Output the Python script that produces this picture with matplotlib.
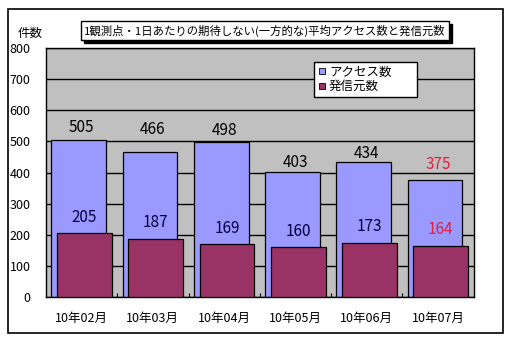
import matplotlib
matplotlib.use("Agg")
import matplotlib.pyplot as plt
from matplotlib.patches import Rectangle
from matplotlib.lines import Line2D
import numpy as np

plt.rcParams["font.family"] = ["Noto Sans CJK JP", "DejaVu Sans"]

# =============================================================================
# Data
# =============================================================================

months = ["10年02月", "10年03月", "10年04月", "10年05月", "10年06月", "10年07月"]
access_counts = [505, 466, 498, 403, 434, 375]
source_counts = [205, 187, 169, 160, 173, 164]

# hand-placed label heights for the access series (data units)
access_label_y = [545, 538, 534, 432, 462, 427]

title = "1観測点・1日あたりの期待しない(一方的な)平均アクセス数と発信元数"
series_names = ["アクセス数", "発信元数"]

# =============================================================================
# Style
# =============================================================================

W, H = 518, 340
BLUE = "#9999FF"
PURPLE = "#993366"
PLOT_BG = "#C0C0C0"
RED = "#E0203C"

fig = plt.figure(figsize=(W / 100, H / 100), dpi=100)


def fx(px):
    return px / W


def fy(py):
    return 1 - py / H


# outer chart frame
fig.patches.append(
    Rectangle((fx(8), fy(333)), fx(503) - fx(8), fy(9) - fy(333),
              transform=fig.transFigure, fill=False, edgecolor="black",
              linewidth=1.2, zorder=0)
)

ax = fig.add_axes([fx(46), fy(297), fx(473.5) - fx(46), fy(48) - fy(297)])
ax.set_facecolor(PLOT_BG)

x = np.arange(len(months))
width = 0.77
shift = 0.04

ax.bar(x - shift, access_counts, width=width, color=BLUE, edgecolor="black",
       linewidth=0.9, zorder=2)
ax.bar(x + shift, source_counts, width=width, color=PURPLE, edgecolor="black",
       linewidth=0.9, zorder=3)

ax.set_ylim(0, 800)
ax.set_xlim(-0.5, len(months) - 0.5)
ax.set_yticks(np.arange(0, 801, 100))
ax.yaxis.grid(True, color="black", linewidth=1)
ax.set_axisbelow(True)

ax.set_xticks(x)
ax.set_xticklabels(months, fontsize=9)
ax.set_xticks(np.arange(0.5, len(months) - 0.5, 1), minor=True)
ax.tick_params(axis="x", which="major", length=0, pad=11)
ax.tick_params(axis="x", which="minor", length=3, direction="in", width=0.8)
ax.tick_params(axis="y", length=0, pad=11, labelsize=9)

for s in ax.spines.values():
    s.set_color("black")
    s.set_linewidth(1)

# value labels
n = len(months)
for i in range(n):
    col = RED if i == n - 1 else "black"
    ax.text(x[i], access_label_y[i], str(access_counts[i]), ha="center",
            va="center", fontsize=11, color=col, zorder=5)
    col2 = RED if i == n - 1 else "#000040"
    ax.text(x[i] + shift, source_counts[i] + 52, str(source_counts[i]),
            ha="center", va="center", fontsize=11, color=col2, zorder=5)

# y axis unit label
fig.text(fx(30.5), fy(33), "件数", ha="center", va="center", fontsize=9)

# title box with shadow
bx0, by0, bx1, by1 = 81, 21, 449, 40
fig.patches.append(
    Rectangle((fx(bx0 + 3), fy(by1 + 3)), fx(bx1) - fx(bx0), fy(by0) - fy(by1),
              transform=fig.transFigure, facecolor="black", edgecolor="black",
              zorder=1)
)
fig.patches.append(
    Rectangle((fx(bx0), fy(by1)), fx(bx1) - fx(bx0), fy(by0) - fy(by1),
              transform=fig.transFigure, facecolor="white", edgecolor="black",
              linewidth=1, zorder=2)
)
fig.text(fx((bx0 + bx1) / 2), fy((by0 + by1) / 2), title, ha="center",
         va="center", fontsize=8.2, zorder=3)

# legend
handles = [
    Line2D([], [], linestyle="none", marker="s", markersize=5,
           markerfacecolor=BLUE, markeredgecolor="black", markeredgewidth=0.6),
    Line2D([], [], linestyle="none", marker="s", markersize=5,
           markerfacecolor=PURPLE, markeredgecolor="black", markeredgewidth=0.6),
]
leg = fig.legend(handles, series_names, loc="upper left",
                 bbox_to_anchor=(fx(314), fy(98), fx(417) - fx(314),
                                 fy(62) - fy(98)),
                 mode="expand", fontsize=9,
                 frameon=True, fancybox=False, handlelength=0.6,
                 handletextpad=0.3, borderpad=0.3, labelspacing=0.1,
                 borderaxespad=0)
leg.get_frame().set_edgecolor("black")
leg.get_frame().set_linewidth(1)
leg.get_frame().set_facecolor("white")
leg.get_frame().set_alpha(1)

fig.savefig("out.png", dpi=100)
